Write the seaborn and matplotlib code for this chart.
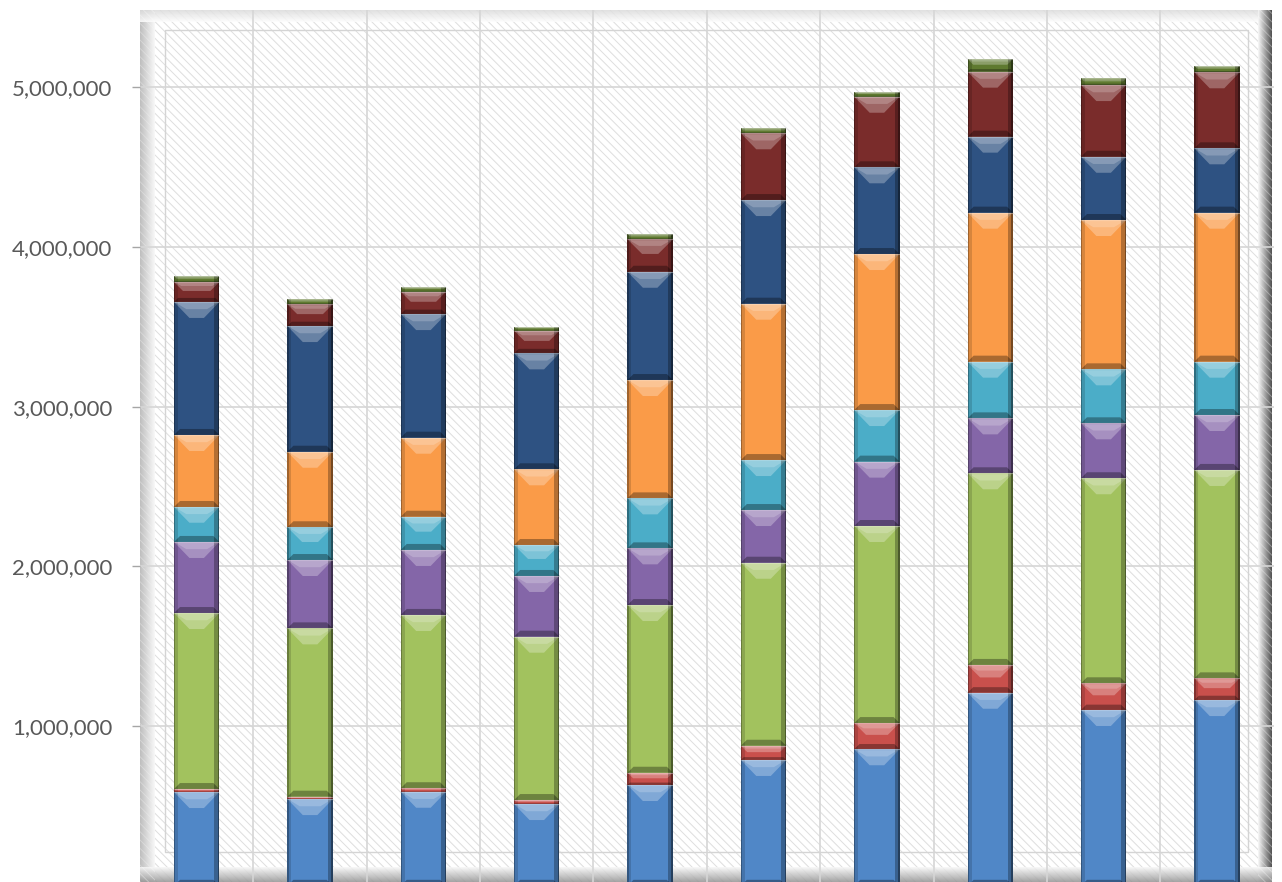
import numpy as np
import matplotlib
matplotlib.use("Agg")
import matplotlib.pyplot as plt
import seaborn as sns
from matplotlib.patches import Polygon, Rectangle
from matplotlib.ticker import FuncFormatter, FixedLocator

# ---- data (thousands) -------------------------------------------------------
periods = ["1", "2", "3", "4", "5", "6", "7", "8", "9", "10"]

series_names = ["S1", "S2", "S3", "S4", "S5", "S6", "S7", "S8", "S9"]
s1_blue      = [587, 543, 589, 512, 631, 788, 855, 1209, 1101, 1163]
s2_red       = [19, 15, 22, 25, 77, 89, 164, 174, 167, 136]
s3_green     = [1102, 1054, 1085, 1023, 1050, 1146, 1234, 1200, 1284, 1305]
s4_purple    = [445, 428, 407, 380, 355, 330, 403, 344, 344, 344]
s5_cyan      = [219, 205, 208, 194, 313, 313, 323, 355, 338, 334]
s6_orange    = [451, 473, 495, 474, 741, 979, 977, 933, 935, 933]
s7_darkblue  = [833, 787, 774, 726, 678, 649, 543, 476, 396, 403]
s8_darkred   = [125, 136, 140, 142, 203, 418, 442, 407, 449, 476]
s9_olive     = [37, 31, 31, 25, 32, 31, 31, 79, 42, 41]

series_values = [s1_blue, s2_red, s3_green, s4_purple, s5_cyan,
                 s6_orange, s7_darkblue, s8_darkred, s9_olive]
series_colors = ["#5087C7", "#C9504C", "#A2C25E", "#8466A8", "#4BADC8",
                 "#FA9B48", "#2E5282", "#7A2C2B", "#5F7A30"]

ytick_values = [1_000_000, 2_000_000, 3_000_000, 4_000_000, 5_000_000]

# ---- figure -----------------------------------------------------------------
W, H = 1282, 882
fig = plt.figure(figsize=(W / 100, H / 100), dpi=100)
fig.patch.set_facecolor("white")

# background layer (pixel coordinates) for the plot-area frame
bg = fig.add_axes([0, 0, 1, 1], zorder=0)
bg.set_xlim(0, W)
bg.set_ylim(H, 0)
bg.axis("off")

L, T, R, B = 140, 10, 1272, 882
plt.rcParams["hatch.linewidth"] = 0.7
bg.add_patch(Rectangle((L, T), R - L, B - T, facecolor="white",
                       edgecolor="none", zorder=0))
bg.add_patch(Rectangle((L, T), R - L, B - T, facecolor="none",
                       edgecolor="#dedede", hatch="\\\\\\\\", lw=0, zorder=1))


def grad(x0, x1, y0, y1, c0, c1, horizontal=True, n=32):
    vals = np.linspace(c0, c1, n)
    arr = vals[None, :] if horizontal else vals[:, None]
    bg.imshow(arr, cmap="gray", vmin=0, vmax=1, extent=(x0, x1, y1, y0),
              origin="upper", aspect="auto", interpolation="bilinear",
              zorder=2, alpha=0.85)


# bevelled frame strips
grad(L, L + 15, T, B, 0.70, 0.97, horizontal=True)
grad(L, R, T, T + 12, 0.86, 0.99, horizontal=False)
grad(R - 14, R, T, B, 0.97, 0.20, horizontal=True)
grad(L, R, B - 15, B, 0.97, 0.58, horizontal=False)
for xs in [(L, L + 15), (R - 14, R)]:
    bg.add_patch(Rectangle((xs[0], T), xs[1] - xs[0], B - T, facecolor="none",
                           edgecolor="#ffffff", hatch="\\\\\\\\", lw=0,
                           alpha=0.35, zorder=3))
bg.add_patch(Rectangle((165, 30), 1248 - 165, 852 - 30, facecolor="none",
                       edgecolor="#d4d4d4", lw=1.0, zorder=3))
bg.set_xlim(0, W)
bg.set_ylim(H, 0)

# ---- main axes ----------------------------------------------------------------
zero_px, top_px = 885.8, 10.0
ax = fig.add_axes([L / W, (H - zero_px) / H, (1273 - 139.3) / W,
                   (zero_px - top_px) / H], zorder=1)
ax.patch.set_alpha(0)
ymax = (zero_px - top_px) / 159.7 * 1_000_000

bottom = np.zeros(len(periods))
for name, vals, color in zip(series_names, series_values, series_colors):
    v = np.array(vals, dtype=float) * 1000
    sns.barplot(x=periods, y=v, bottom=bottom.copy(), color=color,
                saturation=1, width=0.4, errorbar=None, linewidth=0, ax=ax)
    bottom += v

ax.set_xlim(-0.5, len(periods) - 0.5)
ax.set_ylim(0, ymax)

# bevel shading on every stacked segment
ax_w_px = ax.get_position().width * W
ax_h_px = ax.get_position().height * H
dx = (len(periods)) / ax_w_px
dy = ymax / ax_h_px
for bar in list(ax.patches):
    x0, y0 = bar.get_x(), bar.get_y()
    w, h = bar.get_width(), bar.get_height()
    if h <= 0:
        continue
    x1, y1 = x0 + w, y0 + h
    hp = h / dy
    t = min(16, hp * 0.45) * dy
    s = min(min(16, hp * 0.45) * dx, w * 0.34)
    b = min(6, hp * 0.2) * dy
    # light top chevron
    ax.add_patch(Polygon([(x0, y1), (x1, y1), (x1 - s, y1 - t), (x0 + s, y1 - t)],
                         closed=True, facecolor="white", alpha=0.28, lw=0, zorder=3))
    ax.add_patch(Polygon([(x0 + 2 * dx, y1 - 1 * dy), (x1 - 2 * dx, y1 - 1 * dy),
                          (x1 - s * 0.8, y1 - t * 0.45), (x0 + s * 0.8, y1 - t * 0.45)],
                         closed=True, facecolor="white", alpha=0.20, lw=0, zorder=3))
    # dark bottom band
    ax.add_patch(Polygon([(x0, y0), (x1, y0), (x1 - b / dy * dx, y0 + b),
                          (x0 + b / dy * dx, y0 + b)],
                         closed=True, facecolor="black", alpha=0.32, lw=0, zorder=3))
    # side shading
    ax.add_patch(Rectangle((x0, y0), 4 * dx, h, facecolor="black", alpha=0.14,
                           lw=0, zorder=3))
    ax.add_patch(Rectangle((x0, y0), 1.2 * dx, h, facecolor="black", alpha=0.25,
                           lw=0, zorder=3))
    ax.add_patch(Rectangle((x1 - 5 * dx, y0), 5 * dx, h, facecolor="black",
                           alpha=0.28, lw=0, zorder=3))
    ax.add_patch(Rectangle((x1 - 1.5 * dx, y0), 1.5 * dx, h, facecolor="black",
                           alpha=0.35, lw=0, zorder=3))
    # light seam on segment top
    ax.plot([x0, x1], [y1, y1], color="white", alpha=0.35, lw=0.8, zorder=4,
            solid_capstyle="butt")

# grid
ax.set_axisbelow(True)
for yv in ytick_values:
    ax.axhline(yv, color="#d6d6d6", lw=1.2, zorder=0.5)
for xv in np.arange(0.5, len(periods) - 0.5, 1.0):
    ax.axvline(xv, color="#d6d6d6", lw=1.2, zorder=0.5)

for sp in ax.spines.values():
    sp.set_visible(False)

ax.yaxis.set_major_locator(FixedLocator(ytick_values))
ax.yaxis.set_major_formatter(FuncFormatter(lambda v, p: f"{v:,.0f}"))
ax.tick_params(axis="y", length=6, width=1, color="#a6a6a6", pad=14,
               labelsize=16, labelcolor="#595959")
for lab in ax.get_yticklabels():
    lab.set_fontfamily(["Lato", "DejaVu Sans"])
ax.set_xticks([])
ax.set_xlabel("")
ax.set_ylabel("")

fig.savefig("out.png", dpi=100, facecolor="white")
